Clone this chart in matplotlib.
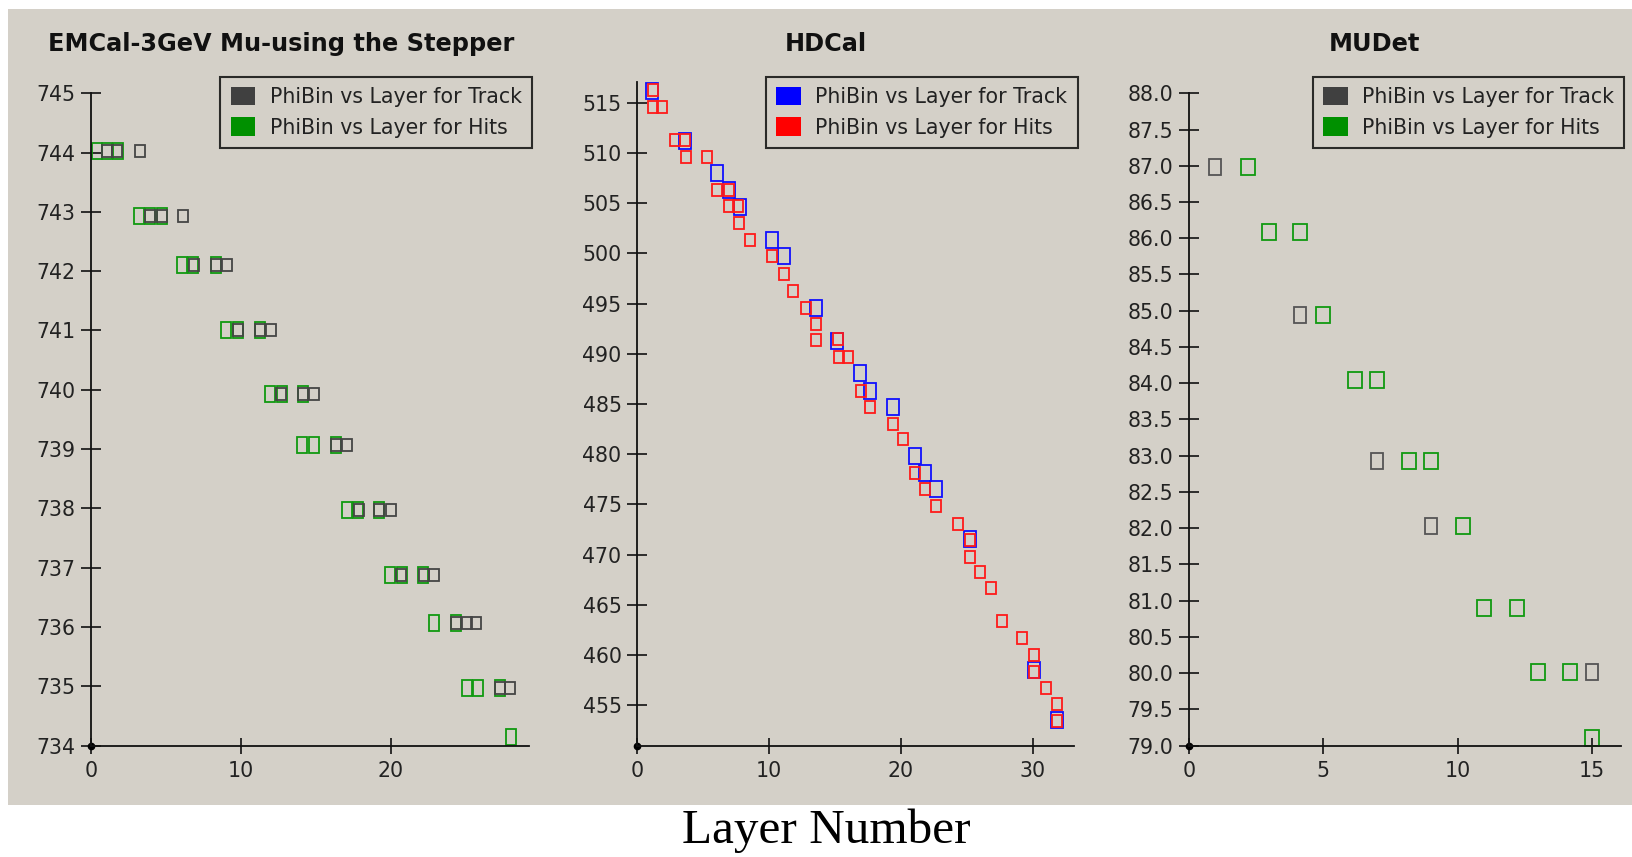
import matplotlib
matplotlib.use('Agg')
import matplotlib.pyplot as plt
from matplotlib.patches import Patch, Rectangle
from matplotlib.markers import MarkerStyle
from matplotlib.transforms import Affine2D
from matplotlib.ticker import FormatStrFormatter

# ---- EMCal: phi bin vs layer ----
em_track_layer = [1.1, 1.75, 3.3,
                  3.98, 4.76, 6.18,
                  6.9, 8.37, 9.06,
                  9.84, 11.31, 12.0,
                  12.71, 14.18, 14.9,
                  16.37, 17.06,
                  17.86, 19.24, 20.0,
                  20.71, 22.23, 22.9,
                  24.37, 25.08, 25.72,
                  27.31, 27.95]
em_track_phi = [744.03, 744.03, 744.03,
                742.93, 742.93, 742.93,
                742.11, 742.11, 742.11,
                741.01, 741.01, 741.01,
                739.93, 739.93, 739.93,
                739.07, 739.07,
                737.98, 737.98, 737.98,
                736.88, 736.88, 736.88,
                736.07, 736.07, 736.07,
                734.97, 734.97]
em_hits_layer = [0.45, 1.08, 1.8,
                 3.24, 3.98, 4.76,
                 6.11, 6.85, 8.34,
                 9.01, 9.82, 11.26,
                 11.98, 12.74, 14.16,
                 14.11, 14.92, 16.34,
                 17.08, 17.82, 19.24,
                 19.98, 20.74, 22.18,
                 22.9, 24.34,
                 25.08, 25.82, 27.29,
                 28.0]
em_hits_phi = [744.03, 744.03, 744.03,
               742.93, 742.93, 742.93,
               742.11, 742.11, 742.11,
               741.01, 741.01, 741.01,
               739.93, 739.93, 739.93,
               739.07, 739.07, 739.07,
               737.98, 737.98, 737.98,
               736.88, 736.88, 736.88,
               736.07, 736.07,
               734.97, 734.97, 734.97,
               734.14]

# ---- HDCal ----
hd_track_layer = [1.17, 3.63, 6.06, 6.97, 7.78, 10.26, 11.15, 13.6, 15.2, 16.9,
                  17.65, 19.4, 21.07, 21.8, 22.7, 25.2, 30.1, 31.8]
hd_track_phi = [516.2, 511.2, 508.0, 506.3, 504.6, 501.35, 499.7, 494.6, 491.3, 488.1,
                486.3, 484.7, 479.8, 478.1, 476.5, 471.6, 458.5, 453.5]
hd_hits_layer = [1.2, 1.23, 1.93, 2.87, 3.68, 3.7, 5.35, 6.08, 6.97, 6.97,
                 7.7, 7.73, 8.6, 10.26, 11.15, 11.85, 12.8, 13.6, 13.6, 15.27,
                 15.3, 16.0, 16.97, 17.68, 19.37, 20.2, 21.1, 21.8, 22.7, 24.3,
                 25.2, 25.2, 26.0, 26.8, 27.65, 29.2, 30.1, 30.1, 31.0, 31.8, 31.8]
hd_hits_phi = [516.3, 514.6, 514.6, 511.3, 511.3, 509.65, 509.65, 506.3, 506.3, 504.7,
               504.7, 503.0, 501.35, 499.7, 498.0, 496.3, 494.6, 493.0, 491.4, 491.45,
               489.7, 489.7, 486.3, 484.7, 483.0, 481.5, 478.1, 476.5, 474.8, 473.1,
               471.5, 469.8, 468.3, 466.7, 463.4, 461.7, 460.0, 458.3, 456.7, 455.1, 453.4]

# ---- MUDet ----
mu_track_layer = [0.98, 4.14, 6.98, 9.0, 15.0]
mu_track_phi = [86.98, 84.94, 82.93, 82.03, 80.01]
mu_hits_layer = [2.18, 2.98, 4.14, 4.99, 6.19, 6.98, 8.18, 9.0, 10.18, 10.98,
                 12.2, 12.98, 14.18, 15.0]
mu_hits_phi = [86.98, 86.08, 86.08, 84.94, 84.04, 84.04, 82.93, 82.93, 82.03, 80.9,
               80.9, 80.01, 80.01, 79.11]

titles = ['EMCal-3GeV Mu-using the Stepper', 'HDCal', 'MUDet']
track_label = 'PhiBin vs Layer for Track'
hits_label = 'PhiBin vs Layer for Hits'

W, H = 1632, 857
BG = '#d4d0c8'
FS = 14.8


def box(aspect):
    # upright open rectangle marker: height = markersize, width = aspect * height
    return MarkerStyle('s', transform=Affine2D().scale(aspect, 1.0))


def setupAxes(left, right, top, xmax, ymin, ymax, xticks, yticks, fmt):
    bottom = 745.5
    ax = fig.add_axes([left / W, 1 - bottom / H, (right - left) / W, (bottom - top) / H])
    ax.set_facecolor('none')
    ax.set_xlim(0, xmax)
    ax.set_ylim(ymin, ymax)
    ax.spines['top'].set_visible(False)
    ax.spines['right'].set_visible(False)
    for s in ['left', 'bottom']:
        ax.spines[s].set_linewidth(1.3)
        ax.spines[s].set_color('#111111')
    ax.set_xticks(xticks)
    ax.set_yticks(yticks)
    ax.yaxis.set_major_formatter(FormatStrFormatter(fmt))
    ax.tick_params(axis='y', direction='inout', length=14, width=1.2, pad=4,
                   labelsize=FS, color='#111111', labelcolor='#222222')
    ax.tick_params(axis='x', direction='inout', length=12, width=1.2, pad=5,
                   labelsize=FS, color='#111111', labelcolor='#222222')
    # little dot at the origin
    ax.plot([0], [0], 'o', ms=4.5, color='black', transform=ax.transAxes, clip_on=False)
    return ax


def addLegend(ax, right, c1, c2):
    handles = [Patch(facecolor=c1, edgecolor='none', label=track_label),
               Patch(facecolor=c2, edgecolor='none', label=hits_label)]
    leg = ax.legend(handles=handles, loc='upper right',
                    bbox_to_anchor=(right / W, 1 - 76.7 / H), bbox_transform=fig.transFigure,
                    fancybox=False, shadow=False, fontsize=FS, handlelength=1.2,
                    handleheight=1.0, handletextpad=0.7, labelspacing=0.5,
                    borderpad=0.5, borderaxespad=0)
    frame = leg.get_frame()
    frame.set_edgecolor('black')
    frame.set_linewidth(1.5)
    frame.set_facecolor('none')
    for t in leg.get_texts():
        t.set_color('#222222')


fig = plt.figure(figsize=(W / 100, H / 100), dpi=100)
fig.patch.set_facecolor('white')
# grey panel behind the three charts
fig.add_artist(Rectangle((8 / W, 1 - 805 / H), 1 - 8 / W, (805 - 9) / H,
                         transform=fig.transFigure, facecolor=BG, edgecolor='none', zorder=-5))

GRAY = '#454545'
GREEN = '#119911'

# EMCal
ax1 = setupAxes(90.7, 528.6, 93.3, 29.2, 734, 745, [0, 10, 20], range(734, 746), '%d')
ax1.plot(em_hits_layer, em_hits_phi, linestyle='none', marker=box(0.6), ms=12.2,
         mfc='none', mec=GREEN, mew=1.3, clip_on=False)
ax1.plot(em_track_layer, em_track_phi, linestyle='none', marker=box(0.73), ms=9.2,
         mfc='none', mec=GRAY, mew=1.3, clip_on=False)
addLegend(ax1, 532, '#404040', '#009000')

# HDCal
ax2 = setupAxes(636.8, 1073.8, 81.7, 33.1, 451, 517.1, [0, 10, 20, 30], range(455, 516, 5), '%d')
ax2.plot(hd_track_layer, hd_track_phi, linestyle='none', marker=box(0.75), ms=11,
         mfc='none', mec='#1010ff', mew=1.3, clip_on=False)
ax2.plot(hd_hits_layer, hd_hits_phi, linestyle='none', marker=box(0.76), ms=9.2,
         mfc='none', mec='#ff1a1a', mew=1.3, clip_on=False)
addLegend(ax2, 1077.6, '#0000ff', '#ff0000')

# MUDet
mu_yticks = [79 + 0.5 * i for i in range(19)]
ax3 = setupAxes(1188.9, 1620.9, 93.3, 16.07, 79, 88, [0, 5, 10, 15], mu_yticks, '%.1f')
ax3.plot(mu_track_layer, mu_track_phi, linestyle='none', marker=box(0.7), ms=12.2,
         mfc='none', mec='#555555', mew=1.3, clip_on=False)
ax3.plot(mu_hits_layer, mu_hits_phi, linestyle='none', marker=box(0.78), ms=12.2,
         mfc='none', mec=GREEN, mew=1.3, clip_on=False)
addLegend(ax3, 1624.3, '#404040', '#009000')

# panel titles
for cx, t in zip([281, 826, 1374], titles):
    fig.text(cx / W, 1 - 44 / H, t, ha='center', va='center', fontsize=17.3,
             fontweight='bold', color='#111111')

fig.text(826 / W, 1 - 843.3 / H, 'Layer Number', ha='center', va='baseline',
         fontsize=35.5, family='Liberation Serif', color='black')

fig.savefig('out.png', dpi=100, facecolor=fig.get_facecolor())
